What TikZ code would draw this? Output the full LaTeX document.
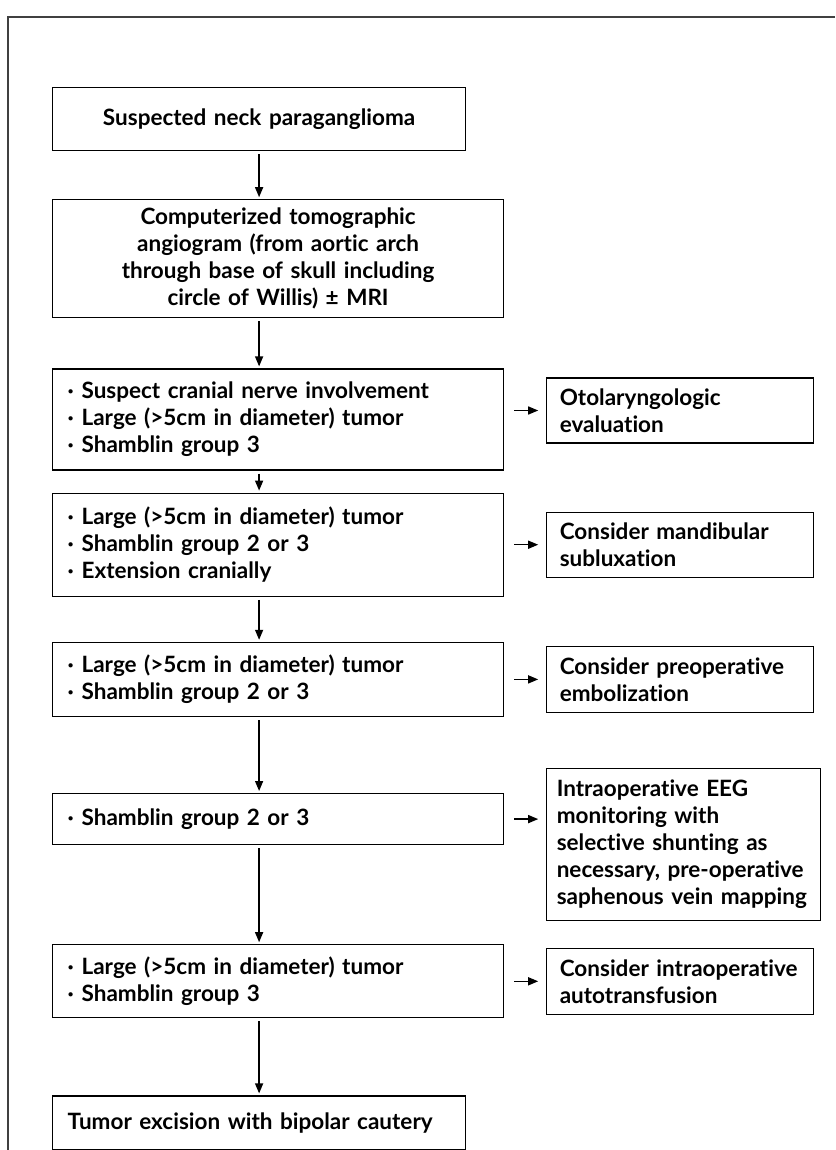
\documentclass[tikz,border=0pt]{standalone}
\usepackage{fontspec}
\setmainfont{Lato}[Ligatures=NoCommon]
\usetikzlibrary{positioning,arrows.meta}

\newcommand{\bulletpt}{\makebox[14pt][l]{·}}

\tikzset{
  box/.style={draw, line width=1.2pt, inner xsep=15pt, inner ysep=4pt,
    font=\fontsize{22.5}{27}\selectfont\bfseries},
  cbox/.style={box, text width=421pt, align=center},
  lbox/.style={box, text width=421pt, align=left},
  rbox/.style={box, inner xsep=13pt, text width=241pt, align=left},
  arr/.style={-{Triangle[length=10pt,width=8pt]}, line width=1.4pt}
}

\begin{document}
\begin{tikzpicture}
  \useasboundingbox (0,0) rectangle (835pt,-1150pt);
  \draw[black!75, line width=1.5pt] (835pt,-17pt) -- (8pt,-17pt) -- (8pt,-1150pt);

  \node[cbox, text width=383pt, minimum height=63pt, anchor=north west] (susp) at (52pt,-87pt)
    {Suspected neck paraganglioma};
  \node[cbox, minimum height=118pt, below=48pt of susp.south west, anchor=north west] (cta)
    {Computerized tomographic\\angiogram (from aortic arch\\through base of skull including\\circle of Willis) ± MRI};
  \node[lbox, minimum height=101pt, below=50pt of cta.south west, anchor=north west] (crit1)
    {\bulletpt Suspect cranial nerve involvement\\\bulletpt Large (>5cm in diameter) tumor\\\bulletpt Shamblin group 3};
  \node[lbox, minimum height=103pt, below=22pt of crit1.south west, anchor=north west] (crit2)
    {\bulletpt Large (>5cm in diameter) tumor\\\bulletpt Shamblin group 2 or 3\\\bulletpt Extension cranially};
  \node[lbox, minimum height=74pt, below=45pt of crit2.south west, anchor=north west] (crit3)
    {\bulletpt Large (>5cm in diameter) tumor\\\bulletpt Shamblin group 2 or 3};
  \node[lbox, minimum height=51pt, below=76pt of crit3.south west, anchor=north west] (crit4)
    {\bulletpt Shamblin group 2 or 3};
  \node[lbox, minimum height=73pt, below=99pt of crit4.south west, anchor=north west] (crit5)
    {\bulletpt Large (>5cm in diameter) tumor\\\bulletpt Shamblin group 3};
  \node[lbox, text width=383pt, minimum height=54pt, below=77pt of crit5.south west, anchor=north west] (excis)
    {Tumor excision with bipolar cautery};

  \node[rbox, minimum height=65pt, right=42pt of crit1, yshift=9pt] (oto)
    {Otolaryngologic\\evaluation};
  \node[rbox, minimum height=65pt, right=42pt of crit2] (mand)
    {Consider mandibular\\subluxation};
  \node[rbox, minimum height=66pt, right=42pt of crit3] (embo)
    {Consider preoperative\\embolization};
  \node[rbox, text width=254pt, inner xsep=10pt, minimum height=152pt, right=42pt of crit4, yshift=-25pt] (eeg)
    {Intraoperative EEG\\monitoring with\\selective shunting as\\necessary, pre-operative\\saphenous vein mapping};
  \node[rbox, minimum height=66pt, right=42pt of crit5] (autot)
    {Consider intraoperative\\autotransfusion};

  \draw[arr, shorten <=3pt, shorten >=2pt] (susp.south) -- (cta.north -| susp.south);
  \draw[arr, shorten <=3pt, shorten >=2pt] (cta.south -| susp.south) -- (crit1.north -| susp.south);
  \draw[arr, shorten <=3pt, shorten >=2pt] (crit1.south -| susp.south) -- (crit2.north -| susp.south);
  \draw[arr, shorten <=3pt, shorten >=2pt] (crit2.south -| susp.south) -- (crit3.north -| susp.south);
  \draw[arr, shorten <=3pt, shorten >=2pt] (crit3.south -| susp.south) -- (crit4.north -| susp.south);
  \draw[arr, shorten <=3pt, shorten >=2pt] (crit4.south -| susp.south) -- (crit5.north -| susp.south);
  \draw[arr, shorten <=3pt, shorten >=2pt] (crit5.south -| susp.south) -- (excis.north -| susp.south);

  \draw[arr, shorten <=10pt, shorten >=8pt] (crit1.east |- oto) -- (oto.west);
  \draw[arr, shorten <=10pt, shorten >=8pt] (crit2.east |- mand) -- (mand.west);
  \draw[arr, shorten <=10pt, shorten >=8pt] (crit3.east |- embo) -- (embo.west);
  \draw[arr, shorten <=10pt, shorten >=8pt] (crit4.east) -- (crit4.east -| eeg.west);
  \draw[arr, shorten <=10pt, shorten >=8pt] (crit5.east |- autot) -- (autot.west);
\end{tikzpicture}
\end{document}
